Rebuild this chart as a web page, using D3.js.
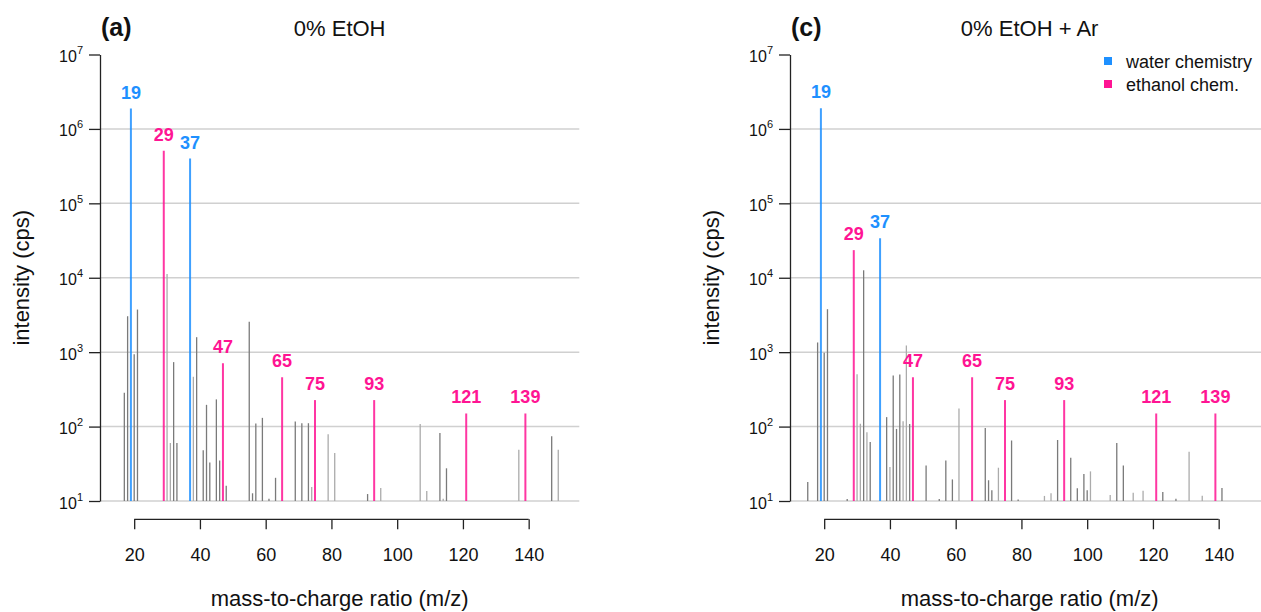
<!DOCTYPE html>
<html>
<head>
<meta charset="utf-8">
<script src="https://cdn.jsdelivr.net/npm/d3@7"></script>
<style>
  body { margin: 0; background: #fff; }
  svg { font-family: "Liberation Sans", Arial, sans-serif; }
</style>
</head>
<body>
<svg id="chart" width="1261" height="612"></svg>
<script>
// labelled peaks (same m/z in both panels)
const peakMz   = [19, 29, 37, 47, 65, 75, 93, 121, 139];
const peakType = ["water", "ethanol", "water", "ethanol", "ethanol", "ethanol", "ethanol", "ethanol", "ethanol"];
const peakIntA = [1.88e6, 5.1e5, 4.0e5, 710, 460, 227, 227, 150, 150];
const peakIntC = [1.9e6, 23500, 34000, 460, 460, 227, 227, 150, 150];

// other signals, panel (a): m/z, intensity, shade (d = dark, l = light)
const otherMzA    = [17, 18, 20, 21, 30, 31, 32, 33, 38, 39, 41, 42, 43, 45, 46, 48, 55, 56, 57, 59, 61, 63,
                     69, 71, 73, 74, 79, 81, 91, 95, 107, 109, 113, 114, 115, 137, 147, 149];
const otherIntA   = [285, 3040, 940, 3740, 11200, 60, 735, 60, 467, 1590, 48, 196, 33, 232, 35, 16, 2570, 12.7, 110, 131, 10.7, 20.5,
                     117, 111, 111, 15.4, 79, 44, 12.4, 15, 108, 13.6, 82, 10.7, 27.5, 49, 74, 49];
const otherShadeA = ["d","d","d","d","l","l","d","d","l","d","d","d","d","d","d","d","d","d","d","d","d","d",
                     "d","d","d","l","l","l","d","l","l","l","d","l","d","l","d","l"];

// other signals, panel (c)
const otherMzC    = [15, 18, 20, 21, 27, 30, 31, 32, 33, 34, 39, 40, 41, 42, 43, 44, 45, 46, 51, 55, 57, 59, 61,
                     69, 70, 71, 73, 77, 79, 87, 89, 91, 95, 97, 99, 100, 101, 107, 109, 111, 114, 117, 123, 127, 131, 135, 141];
const otherIntC   = [18, 1350, 980, 3780, 10.6, 505, 109, 12600, 84, 62, 134, 28.6, 486, 93, 500, 118, 1230, 108, 30, 10.6, 35, 19.5, 175,
                     96, 19, 14, 28, 65, 10.5, 11.7, 12.7, 66, 38, 14.8, 23, 14, 25, 12, 60, 30, 12.9, 13.7, 13.2, 10.7, 46, 11.8, 15];
const otherShadeC = ["d","d","d","d","d","l","l","d","l","d","d","l","d","d","d","l","l","d","d","d","d","d","l",
                     "d","d","d","l","d","d","l","l","d","d","d","d","d","l","l","d","d","l","l","d","d","l","l","d"];

const xTicks = [20, 40, 60, 80, 100, 120, 140];
const yTicks = [1e1, 1e2, 1e3, 1e4, 1e5, 1e6, 1e7];
const gridVals = [1e1, 1e2, 1e3, 1e4, 1e5, 1e6];

const colors = { water: "#1E90FF", ethanol: "#FF1493", d: "#7a7a7a", l: "#ababab" };

const svg = d3.select("#chart");

function drawPanel(left, tag, title, peakInt, otherMz, otherInt, otherShade) {
    const area = { x0: left, x1: left + 479.3, yTop: 54.5, yBot: 501 };

    const scX = d3.scaleLinear().domain([9.6, 155.4]).range([area.x0, area.x1]);
    const scY = d3.scaleLog().domain([1e1, 1e7]).range([area.yBot, area.yTop]);

    const g = svg.append("g");

    // horizontal grid
    g.selectAll(".grid").data(gridVals).enter().append("line")
        .attr("x1", area.x0).attr("x2", area.x1)
        .attr("y1", d => scY(d)).attr("y2", d => scY(d))
        .style("stroke", "#d0d0d0").style("stroke-width", 1.5);

    // grey signals
    const others = otherMz.map((m, i) => ({ mz: m, v: otherInt[i], s: otherShade[i] }));
    g.selectAll(".other").data(others).enter().append("line")
        .attr("x1", d => scX(d.mz)).attr("x2", d => scX(d.mz))
        .attr("y1", scY(1e1)).attr("y2", d => scY(d.v))
        .style("stroke", d => colors[d.s]).style("stroke-width", 1.3);

    // labelled peaks
    const peaks = peakMz.map((m, i) => ({ mz: m, v: peakInt[i], t: peakType[i] }));
    g.selectAll(".peak").data(peaks).enter().append("line")
        .attr("x1", d => scX(d.mz)).attr("x2", d => scX(d.mz))
        .attr("y1", scY(1e1)).attr("y2", d => scY(d.v))
        .style("stroke", d => colors[d.t]).style("stroke-width", 2)
        .style("opacity", 0.85);
    g.selectAll(".plabel").data(peaks).enter().append("text")
        .attr("x", d => scX(d.mz)).attr("y", d => scY(d.v) - 10)
        .attr("text-anchor", "middle")
        .style("font-size", "18px").style("font-weight", "bold")
        .style("fill", d => colors[d.t])
        .text(d => d.mz);

    // y axis
    const axisY = d3.axisLeft(scY).tickValues(yTicks).tickFormat("").tickSize(11).tickSizeOuter(0);
    const gy = g.append("g").attr("transform", `translate(${area.x0},0)`).call(axisY);
    gy.select(".domain").style("stroke", "#222").style("stroke-width", 1.3);
    gy.selectAll(".tick line").style("stroke", "#222").style("stroke-width", 1.3);
    const lab = gy.selectAll(".tick").append("text")
        .attr("x", -17).attr("y", 7)
        .attr("text-anchor", "end")
        .style("fill", "#111").style("font-size", "16px");
    lab.append("tspan").text("10");
    lab.append("tspan").attr("dy", -8).style("font-size", "11px")
        .text(d => Math.round(Math.log10(d)));

    // x axis (line only between first and last tick, R style)
    const yAx = 519.3;
    const axisX = d3.axisBottom(scX).tickValues(xTicks).tickSize(10).tickPadding(19);
    const gx = g.append("g").attr("transform", `translate(0,${yAx})`).call(axisX);
    gx.select(".domain").remove();
    gx.append("line")
        .attr("x1", scX(xTicks[0])).attr("x2", scX(xTicks[xTicks.length - 1]))
        .style("stroke", "#222").style("stroke-width", 1.3);
    gx.selectAll(".tick line").style("stroke", "#222").style("stroke-width", 1.3);
    gx.selectAll(".tick text").style("font-size", "18px").style("fill", "#111")
        .style("font-family", "'Liberation Sans', Arial, sans-serif");

    // titles
    const cx = (area.x0 + area.x1) / 2;
    g.append("text").attr("x", cx).attr("y", 606)
        .attr("text-anchor", "middle").style("font-size", "22px").style("fill", "#111")
        .text("mass-to-charge ratio (m/z)");
    g.append("text")
        .attr("transform", `translate(${area.x0 - 71},${(area.yTop + area.yBot) / 2}) rotate(-90)`)
        .attr("text-anchor", "middle").style("font-size", "22px").style("fill", "#111")
        .text("intensity (cps)");
    g.append("text").attr("x", cx).attr("y", 36)
        .attr("text-anchor", "middle").style("font-size", "22px").style("fill", "#111")
        .text(title);
    g.append("text").attr("x", area.x0 + 1).attr("y", 36)
        .style("font-size", "25px").style("font-weight", "bold").style("fill", "#111")
        .text(tag);
}

drawPanel(100, "(a)", "0% EtOH", peakIntA, otherMzA, otherIntA, otherShadeA);
drawPanel(790, "(c)", "0% EtOH + Ar", peakIntC, otherMzC, otherIntC, otherShadeC);

// legend
const legendKeys = ["water", "ethanol"];
const legendText = ["water chemistry", "ethanol chem."];
const leg = svg.append("g").attr("transform", "translate(1104,57)");
leg.selectAll("rect").data(legendKeys).enter().append("rect")
    .attr("x", 0).attr("y", (d, i) => i * 23)
    .attr("width", 8).attr("height", 8)
    .style("fill", d => colors[d]);
leg.selectAll("text").data(legendText).enter().append("text")
    .attr("x", 22).attr("y", (d, i) => i * 23 + 11)
    .style("font-size", "18px").style("fill", "#111")
    .text(d => d);
</script>
</body>
</html>
